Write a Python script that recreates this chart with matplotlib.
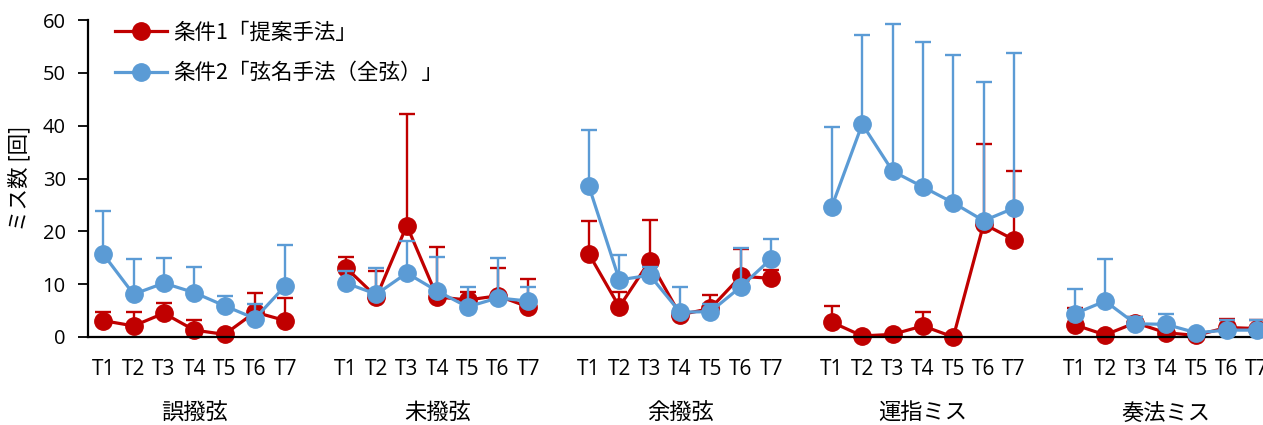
import numpy as np
import matplotlib
matplotlib.use("Agg")
import matplotlib.pyplot as plt
from matplotlib.transforms import blended_transform_factory

plt.rcParams['font.family'] = ['Noto Sans CJK JP', 'DejaVu Sans']

groups = ["誤撥弦", "未撥弦", "余撥弦", "運指ミス", "奏法ミス"]
trials = ["T1", "T2", "T3", "T4", "T5", "T6", "T7"]

# 条件1「提案手法」: mean and upper error (SD) per group
cond1_mean = [
    [3.1, 2.1, 4.5, 1.3, 0.5, 4.7, 3.1],
    [13.1, 7.6, 21.1, 7.6, 7.0, 7.8, 5.7],
    [15.7, 5.7, 14.4, 4.2, 5.4, 11.5, 11.1],
    [2.8, 0.2, 0.5, 2.1, 0.0, 21.4, 18.4],
    [2.3, 0.4, 2.7, 0.8, 0.3, 1.8, 1.6],
]
cond1_sd = [
    [1.6, 2.7, 2.0, 1.9, 0.0, 3.7, 4.2],
    [2.1, 4.8, 21.1, 9.5, 1.5, 5.3, 5.2],
    [6.3, 2.8, 7.7, 1.0, 2.5, 5.1, 1.5],
    [3.1, 0.0, 0.0, 2.7, 0.0, 15.1, 13.1],
    [3.2, 0.0, 1.1, 0.8, 0.0, 1.6, 1.6],
]

# 条件2「弦名手法（全弦）」
cond2_mean = [
    [15.7, 8.1, 10.2, 8.4, 5.9, 3.5, 9.7],
    [10.2, 8.1, 12.1, 8.7, 5.7, 7.4, 6.8],
    [28.5, 10.8, 11.7, 4.7, 4.8, 9.5, 14.8],
    [24.7, 40.3, 31.4, 28.4, 25.4, 22.0, 24.4],
    [4.4, 6.8, 2.5, 2.4, 0.8, 1.3, 1.3],
]
cond2_sd = [
    [8.2, 6.7, 4.8, 4.8, 1.9, 2.7, 7.8],
    [2.3, 4.9, 6.0, 6.5, 3.7, 7.6, 2.6],
    [10.7, 4.7, 1.5, 4.7, 1.5, 7.3, 3.7],
    [15.1, 16.9, 27.8, 27.5, 28.0, 26.2, 29.4],
    [4.7, 7.9, 1.3, 2.0, 0.4, 1.9, 1.9],
]

red = "#C00000"
blue = "#5B9BD5"
latin = ["Open Sans", "DejaVu Sans"]

fig = plt.figure(figsize=(12.63, 4.25), dpi=100)
ax = fig.add_axes([88 / 1263, 88 / 425, 1 - 88 / 1263, 317 / 425])

n = len(trials)
step = n + 1
for gi in range(len(groups)):
    x = np.arange(n) + gi * step
    for mean, sd, color, z in ((cond1_mean, cond1_sd, red, 2),
                               (cond2_mean, cond2_sd, blue, 3)):
        m = np.array(mean[gi])
        e = np.array(sd[gi])
        ax.errorbar(x, m, yerr=[np.zeros_like(e), e], fmt="none",
                    ecolor=color, elinewidth=1.7, capsize=6, capthick=1.7,
                    zorder=z)
        ax.plot(x, m, "-o", color=color, lw=2.3, ms=12.5, zorder=z + 0.5,
                clip_on=False)

# legend proxies
h1, = ax.plot([], [], "-o", color=red, lw=2.3, ms=12.5)
h2, = ax.plot([], [], "-o", color=blue, lw=2.3, ms=12.5)
fig.legend([h1, h2], ["条件1「提案手法」", "条件2「弦名手法（全弦）」"],
           loc="upper left", bbox_to_anchor=(115 / 1263, 1 - 22 / 425),
           frameon=False, fontsize=15.5, handlelength=2.4,
           labelspacing=0.85, handletextpad=0.3, borderpad=0,
           borderaxespad=0)

ax.set_ylim(0, 60)
ax.set_yticks(np.arange(0, 61, 10))
ax.set_xlim(-0.5, (len(groups) - 1) * step + n - 0.8)

xt = np.concatenate([np.arange(n) + gi * step for gi in range(len(groups))])
ax.set_xticks(xt)
ax.set_xticklabels(trials * len(groups), fontsize=15, fontfamily=latin)
ax.tick_params(axis="x", length=0, pad=16)
ax.tick_params(axis="y", labelsize=14.5, length=7, width=1.3,
               direction="out", pad=9)
for lab in ax.get_yticklabels():
    lab.set_fontfamily(latin)

for side in ("top", "right"):
    ax.spines[side].set_visible(False)
ax.spines["left"].set_linewidth(1.6)
ax.spines["bottom"].set_linewidth(1.6)

trans = blended_transform_factory(ax.transData, ax.transAxes)
for gi, g in enumerate(groups):
    ax.text(gi * step + (n - 1) / 2, -(413 - 337) / 317, g, transform=trans,
            ha="center", va="center", fontsize=16)

ax.set_ylabel("ミス数 [回]", fontsize=15.5)
ax.yaxis.set_label_coords(-(88 - 30) / 1175, 0.5)

fig.savefig("out.png", dpi=100)
